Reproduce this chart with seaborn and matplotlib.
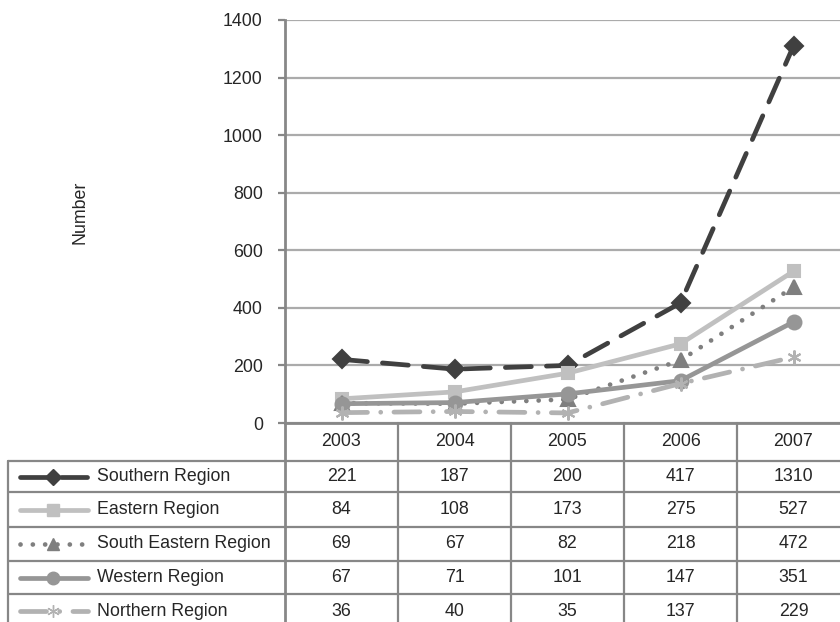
import seaborn as sns
import matplotlib.pyplot as plt
from matplotlib.lines import Line2D

# Data
years = ["2003", "2004", "2005", "2006", "2007"]
regions = ["Southern Region", "Eastern Region", "South Eastern Region",
           "Western Region", "Northern Region"]
southern = [221, 187, 200, 417, 1310]
eastern = [84, 108, 173, 275, 527]
south_eastern = [69, 67, 82, 218, 472]
western = [67, 71, 101, 147, 351]
northern = [36, 40, 35, 137, 229]
series = [southern, eastern, south_eastern, western, northern]

# Styles
colors = ["#404040", "#c0c0c0", "#7f7f7f", "#969696", "#b2b2b2"]
styles = [(0, (5.5, 3.2)), "-", (0, (0.01, 2.6)), "-", (0, (5.5, 2.8, 0.01, 2.8))]
markers = ["D", "s", "^", "o", (6, 2, 0)]
msizes = [9, 9, 10, 10, 10]
fs = 12.8

sns.set_style("white")
plt.rcParams["font.family"] = ["Liberation Sans", "DejaVu Sans"]
plt.rcParams["lines.solid_capstyle"] = "round"
plt.rcParams["lines.dash_capstyle"] = "round"

W, H = 840, 622
fig = plt.figure(figsize=(W / 100, H / 100), dpi=100)

# plot area in pixels
left, right, top, bottom = 285, 840, 20, 423
ax = fig.add_axes([left / W, 1 - bottom / H, (right - left) / W, (bottom - top) / H])

xs = list(range(len(years)))
for vals, c, ls, mk, ms in zip(series, colors, styles, markers, msizes):
    sns.lineplot(x=xs, y=vals, ax=ax, color=c, linestyle=ls, linewidth=3.4,
                 marker=mk, markersize=ms, markeredgecolor=c, markeredgewidth=1.5,
                 clip_on=False)

col_w = 113
ax.set_xlim(-0.5, -0.5 + (right - left) / col_w)
ax.set_ylim(0, 1400)
ax.set_yticks(range(0, 1401, 200))
ax.set_xticks([])
ax.yaxis.grid(True, color="#ababab", linewidth=1.6)
ax.set_axisbelow(True)
for s in ["top", "right"]:
    ax.spines[s].set_visible(False)
for s in ["left", "bottom"]:
    ax.spines[s].set_color("#878787")
    ax.spines[s].set_linewidth(2)
ax.tick_params(axis="y", left=True, length=5, width=1.6, color="#878787",
               labelsize=fs, pad=11)
ax.set_ylabel("")
fig.text(80 / W, 1 - 212 / H, "Number", rotation=90, ha="center", va="center",
         fontsize=fs)

# Data table drawn in pixel coordinates
tab = fig.add_axes([0, 0, 1, 1], facecolor="none")
tab.set_xlim(0, W)
tab.set_ylim(H, 0)
tab.axis("off")
gc = "#878787"
row_lines = [461, 492, 527, 561, 594]
col_edges = [left + i * col_w for i in range(len(years) + 1)]
for y in row_lines:
    tab.plot([8, 850], [y, y], color=gc, lw=1.6, clip_on=False)
tab.plot([8, 8], [461, H], color=gc, lw=1.6)
for x in col_edges:
    tab.plot([x, x], [bottom, H], color=gc, lw=1.6 if x != left else 2)

header_y = (bottom + row_lines[0]) / 2
row_centers = [(row_lines[i] + row_lines[i + 1]) / 2 for i in range(len(row_lines) - 1)]
row_centers.append(row_lines[-1] + 17)

for i, yr in enumerate(years):
    cx = left + col_w * (i + 0.5)
    tab.text(cx, header_y, yr, ha="center", va="center", fontsize=fs)
    for r, vals in enumerate(series):
        tab.text(cx, row_centers[r], str(vals[i]), ha="center", va="center",
                 fontsize=fs)

for r, name in enumerate(regions):
    cy = row_centers[r]
    tab.add_line(Line2D([20, 88], [cy, cy], color=colors[r], linestyle=styles[r],
                        linewidth=3.4))
    tab.add_line(Line2D([53], [cy], color=colors[r], marker=markers[r],
                        markersize=msizes[r] - 1, markeredgecolor=colors[r],
                        linestyle="none"))
    tab.text(97, cy, name, ha="left", va="center", fontsize=fs)

fig.savefig("out.png", dpi=100)
